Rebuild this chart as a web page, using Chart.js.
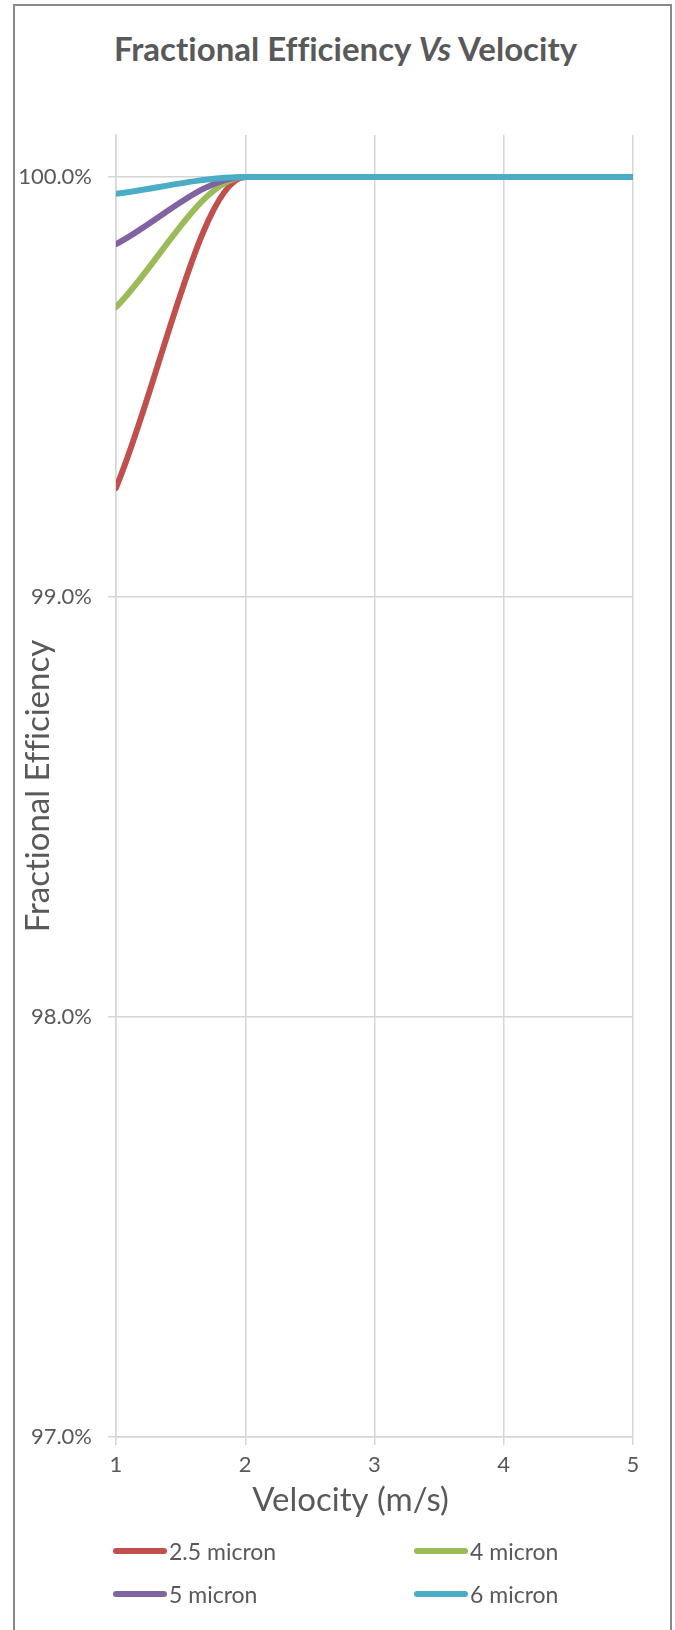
<!DOCTYPE html>
<html>
<head>
<meta charset="utf-8">
<title>Fractional Efficiency Vs Velocity</title>
<script src="https://cdn.jsdelivr.net/npm/chart.js@4.4.1/dist/chart.umd.min.js"></script>
<style>
  html, body { margin: 0; padding: 0; background: #fff; }
  body { width: 675px; height: 1630px; position: relative; overflow: hidden; font-family: Lato, "Noto Sans", sans-serif; color: #595959; font-variant-ligatures: none; }
  .frame { position: absolute; left: 13px; top: 4px; width: 655px; height: 1700px; border: 2px solid #898989; }
  #effChart { position: absolute; left: 0; top: 0; }
  .chart-title { position: absolute; left: 8px; width: 675px; top: 28px; text-align: center; font-size: 33px; font-weight: bold; line-height: 40px; white-space: nowrap; }
  .legend { position: absolute; left: 0; top: 0; }
  .legend-item { position: absolute; display: flex; align-items: center; font-size: 23px; white-space: nowrap; }
  .legend-line { width: 54px; height: 6px; border-radius: 3px; margin-right: 2px; }
</style>
</head>
<body>
<div class="frame"></div>
<div class="chart-title">Fractional Efficiency <i>Vs</i> Velocity</div>
<canvas id="effChart" width="675" height="1630"></canvas>
<div class="legend" id="legend"></div>

<script>
// ===== DATA =====
const velocities = [1, 2, 3, 4, 5];
const eff25 = [99.26, 100, 100, 100, 100];
const eff4 = [99.69, 100, 100, 100, 100];
const eff5 = [99.84, 100, 100, 100, 100];
const eff6 = [99.96, 100, 100, 100, 100];
const seriesNames = ['2.5 micron', '4 micron', '5 micron', '6 micron'];
const seriesColors = ['#C0504D', '#9BBB59', '#8064A2', '#4BACC6'];
const yTicks = [97, 98, 99, 100];
const xTitle = 'Velocity (m/s)';
const yTitle = 'Fractional Efficiency';

const textColor = '#595959';
const gridColor = '#d6d6d6';

function toPoints(values) {
  return velocities.map((v, i) => ({ x: v, y: values[i] }));
}

const allSeries = [eff25, eff4, eff5, eff6];

// later series drawn on top (like Excel)
const datasets = allSeries.map((vals, i) => ({
  label: seriesNames[i],
  data: toPoints(vals),
  borderColor: seriesColors[i],
  backgroundColor: seriesColors[i],
  borderWidth: 6,
  pointRadius: 0,
  fill: false,
  tension: 0.4,
  cubicInterpolationMode: 'monotone',
  borderCapStyle: 'round',
  order: allSeries.length - i
}));

// ===== PLUGIN: no ligatures + x title slightly left of centre =====
const textPlugin = {
  id: 'textPlugin',
  beforeDraw(chart) {
    chart.ctx.textRendering = 'optimizeSpeed';
  },
  afterDraw(chart) {
    const c = chart.ctx;
    const area = chart.chartArea;
    c.save();
    c.textRendering = 'optimizeSpeed';
    c.font = '33px Lato';
    c.fillStyle = textColor;
    c.textAlign = 'center';
    c.textBaseline = 'middle';
    c.fillText(xTitle, (area.left + area.right) / 2 - 24, area.bottom + 63);
    c.restore();
  }
};

// ===== CHART =====
const ctx = document.getElementById('effChart');
const effChart = new Chart(ctx, {
  type: 'line',
  data: { datasets: datasets },
  plugins: [textPlugin],
  options: {
    responsive: false,
    animation: false,
    devicePixelRatio: 1,
    layout: { padding: { top: 135, left: 19, right: 42, bottom: 111 } },
    plugins: {
      legend: { display: false },
      tooltip: { enabled: false }
    },
    scales: {
      x: {
        type: 'linear',
        min: velocities[0],
        max: velocities[velocities.length - 1],
        afterBuildTicks: (scale) => { scale.ticks = velocities.map(v => ({ value: v })); },
        afterFit: (scale) => { scale.height = 82; },
        ticks: { color: textColor, font: { family: 'Lato', size: 22 }, padding: 7, maxRotation: 0 },
        grid: { color: gridColor, lineWidth: 1.5, tickLength: 8, tickColor: gridColor },
        border: { color: gridColor, width: 1.5 },
        title: { display: false }
      },
      y: {
        min: 97,
        max: 100.1,
        afterBuildTicks: (scale) => { scale.ticks = yTicks.map(v => ({ value: v })); },
        afterFit: (scale) => { scale.width = 97; },
        ticks: {
          color: textColor,
          font: { family: 'Lato', size: 22 },
          padding: 16,
          callback: (v) => v.toFixed(1) + '%'
        },
        grid: { color: gridColor, lineWidth: 1.5, tickLength: 8, tickColor: gridColor },
        border: { color: gridColor, width: 1.5 },
        title: { display: true, text: yTitle, color: textColor, font: { family: 'Lato', size: 33 }, padding: 0 }
      }
    }
  }
});

// ===== LEGEND (2 columns) =====
function buildLegend() {
  const legend = document.getElementById('legend');
  const cols = [113, 414];
  const rows = [1551, 1594];
  seriesNames.forEach((name, i) => {
    const item = document.createElement('div');
    item.className = 'legend-item';
    item.style.left = cols[i % 2] + 'px';
    item.style.top = (rows[Math.floor(i / 2)] - 14) + 'px';
    item.style.height = '28px';
    const line = document.createElement('span');
    line.className = 'legend-line';
    line.style.background = seriesColors[i];
    const label = document.createElement('span');
    label.textContent = name;
    item.appendChild(line);
    item.appendChild(label);
    legend.appendChild(item);
  });
}
buildLegend();
</script>
</body>
</html>
